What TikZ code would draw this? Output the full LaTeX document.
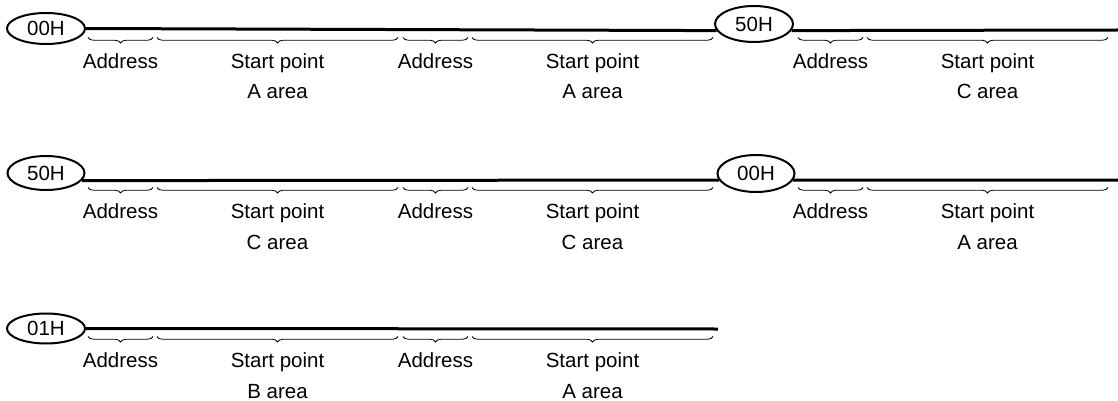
\documentclass[tikz,border=0pt]{standalone}
\usepackage{fontspec}
\setmainfont{Liberation Sans}
\usetikzlibrary{decorations.pathreplacing,shapes.geometric}
\newcommand\segAddr[4]{% name, x1, x2, line y
  \draw[br] (#2,#4+7.5) -- (#3,#4+7.5);
  \node[lab] (#1) at ({(#2+#3)/2},#4+38.5) {Address};}
\newcommand\segStart[5]{% name, x1, x2, line y, area letter
  \draw[br] (#2,#4+7.5) -- (#3,#4+7.5);
  \node[lab] (#1a) at ({(#2+#3)/2},#4+38.5) {Start point};
  \node[lab] (#1b) at ({(#2+#3)/2},#4+69) {#5 area};}
\begin{document}
\begin{tikzpicture}[x=1pt,y=-1pt,
  lab/.style={font=\fontsize{20.5}{24}\selectfont, anchor=base, inner sep=0pt},
  oval/.style={draw, ellipse, line width=2pt, fill=white, inner sep=0pt,
    font=\fontsize{20.5}{24}\selectfont},
  mainline/.style={line width=3pt},
  br/.style={decorate, decoration={brace, mirror, amplitude=5.5pt}, line width=0.8pt}]
\useasboundingbox (0,0) rectangle (1118,401);

% Row 1
\node[oval, minimum width=78pt, minimum height=31pt] (o1) at (46,28.5) {00H};
\node[oval, minimum width=78pt, minimum height=36pt] (o2) at (754,24) {50H};
\coordinate (e1) at (1118,30);
\draw[mainline] (o1.east) -- (o2.190);
\draw[mainline] (o2.-10) -- (e1);
\segAddr{a11}{88}{153}{30}
\segStart{s11}{157}{398}{30}{A}
\segAddr{a12}{403}{468}{30}
\segStart{s12}{472}{713}{30}{A}
\segAddr{a13}{798}{863}{30}
\segStart{s13}{867}{1108}{30}{C}

% Row 2
\node[oval, minimum width=77pt, minimum height=34pt] (o3) at (46,173) {50H};
\node[oval, minimum width=77pt, minimum height=37pt] (o4) at (756,173.5) {00H};
\coordinate (e2) at (1118,180);
\draw[mainline] (o3.-12) -- (o4.190.5);
\draw[mainline] (o4.-10.5) -- (e2);
\segAddr{a21}{88}{153}{180}
\segStart{s21}{157}{398}{180}{C}
\segAddr{a22}{403}{468}{180}
\segStart{s22}{472}{713}{180}{C}
\segAddr{a23}{798}{863}{180}
\segStart{s23}{867}{1108}{180}{A}

% Row 3
\node[oval, minimum width=78pt, minimum height=30pt] (o5) at (46,328.5) {01H};
\coordinate (e3) at (718,329);
\draw[mainline] (o5.east) -- (e3);
\segAddr{a31}{88}{153}{329}
\segStart{s31}{157}{398}{329}{B}
\segAddr{a32}{403}{468}{329}
\segStart{s32}{472}{713}{329}{A}
\end{tikzpicture}
\end{document}
